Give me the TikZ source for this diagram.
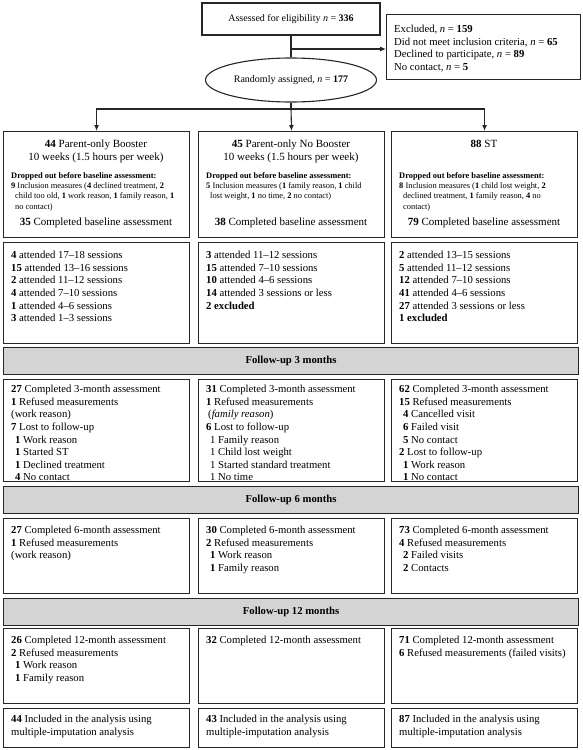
\documentclass[tikz,border=0pt]{standalone}
\usepackage{fontspec}
\setmainfont{Liberation Serif}
\usetikzlibrary{arrows.meta,shapes.geometric}

\newcommand{\indsub}{\hspace*{4pt}}

\begin{document}
\begin{tikzpicture}[x=1pt, y=-1pt,
    box/.style={draw=black!85, line width=1.1pt, anchor=north west, minimum width=186pt, inner sep=0pt},
    bar/.style={box, fill=black!17, minimum width=575pt, minimum height=27pt, font=\bfseries\fontsize{10.7}{12.6}\selectfont},
    txt/.style={anchor=north west, align=left, inner sep=0pt, font=\fontsize{10.7}{12.6}\selectfont},
    title/.style={txt, align=center, font=\fontsize{11}{13}\selectfont},
    small/.style={txt, font=\fontsize{8.4}{10.4}\selectfont},
    conn/.style={line width=1.1pt, draw=black!85},
    >={Latex[length=6pt, width=5pt]}]
    \useasboundingbox (0,0) rectangle (582,750);

    % Enrolment
    \node[draw=black!85, line width=1.1pt, minimum width=178pt, minimum height=32pt] (assess) at (291,19)
        {Assessed for eligibility \textit{n} = \textbf{336}};
    \node[box, minimum width=194pt, minimum height=65pt] (excl) at (386,14) {};
    \node[txt] (exclt) at (394,25) {Excluded, \textit{n} = \textbf{159}\\
        Did not meet inclusion criteria, \textit{n} = \textbf{65}\\
        Declined to participate, \textit{n} = \textbf{89}\\
        No contact, \textit{n} = \textbf{5}};
    \node[draw=black!85, line width=1.1pt, ellipse, minimum width=157pt, minimum height=44pt] (rand) at (291,80)
        {Randomly assigned, \textit{n} = \textbf{177}};

    % Allocation boxes
    \node[box, minimum height=106pt] (pbtop) at (3,131) {};
    \node[box, minimum height=106pt] (nbtop) at (198,131) {};
    \node[box, minimum height=106pt] (sttop) at (391,131) {};

    % Connectors
    \coordinate (split) at (291,49);
    \coordinate (fork) at (291,109);
    \draw[conn] (assess) -- (rand);
    \draw[conn, ->] (split) -- (excl.west |- split);
    \draw[conn] (rand) -- (fork);
    \draw[conn, ->] (fork) -| (pbtop.north);
    \draw[conn, ->] (fork) -- (nbtop.north);
    \draw[conn, ->] (fork) -| (sttop.north);

    % Parent-only Booster
    \node[title, anchor=north] (pbname) at (96,140) {\textbf{44} Parent-only Booster\\10 weeks (1.5 hours per week)};
    \node[small] (pbdrop) at (11,172) {\textbf{Dropped out before baseline assessment:}\\
        \textbf{9} Inclusion measures (\textbf{4} declined treatment, \textbf{2}\\
        \indsub child too old, \textbf{1} work reason, \textbf{1} family reason, \textbf{1}\\
        \indsub no contact)};
    \node[title, anchor=center] (pbbase) at (96,223) {\textbf{35} Completed baseline assessment};

    % Parent-only No Booster
    \node[title, anchor=north] (nbname) at (291,140) {\textbf{45} Parent-only No Booster\\10 weeks (1.5 hours per week)};
    \node[small] (nbdrop) at (206,172) {\textbf{Dropped out before baseline assessment:}\\
        \textbf{5} Inclusion measures (\textbf{1} family reason, \textbf{1} child\\
        \indsub lost weight, \textbf{1} no time, \textbf{2} no contact)};
    \node[title, anchor=center] (nbbase) at (291,223) {\textbf{38} Completed baseline assessment};

    % ST
    \node[title, anchor=north] (stname) at (484,140) {\textbf{88} ST};
    \node[small] (stdrop) at (399,172) {\textbf{Dropped out before baseline assessment:}\\
        \textbf{8} Inclusion measures (\textbf{1} child lost weight, \textbf{2}\\
        \indsub declined treatment, \textbf{1} family reason, \textbf{4} no\\
        \indsub contact)};
    \node[title, anchor=center] (stbase) at (484,223) {\textbf{79} Completed baseline assessment};

    % Sessions
    \node[box, minimum height=101pt] (pbses) at (3,242) {};
    \node[box, minimum height=101pt] (nbses) at (198,242) {};
    \node[box, minimum height=101pt] (stses) at (391,242) {};
    \node[txt] (pbsest) at (11,251) {\textbf{4} attended 17–18 sessions\\
        \textbf{15} attended 13–16 sessions\\
        \textbf{2} attended 11–12 sessions\\
        \textbf{4} attended 7–10 sessions\\
        \textbf{1} attended 4–6 sessions\\
        \textbf{3} attended 1–3 sessions};
    \node[txt] (nbsest) at (206,251) {\textbf{3} attended 11–12 sessions\\
        \textbf{15} attended 7–10 sessions\\
        \textbf{10} attended 4–6 sessions\\
        \textbf{14} attended 3 sessions or less\\
        \textbf{2 excluded}};
    \node[txt] (stsest) at (399,251) {\textbf{2} attended 13–15 sessions\\
        \textbf{5} attended 11–12 sessions\\
        \textbf{12} attended 7–10 sessions\\
        \textbf{41} attended 4–6 sessions\\
        \textbf{27} attended 3 sessions or less\\
        \textbf{1 excluded}};

    % Follow-up 3 months
    \node[bar] (bar3) at (3,347) {Follow-up 3 months};
    \node[box, minimum height=102pt] (pb3) at (3,379) {};
    \node[box, minimum height=102pt] (nb3) at (198,379) {};
    \node[box, minimum height=102pt] (st3) at (391,379) {};
    \node[txt] (pb3t) at (11,385) {\textbf{27} Completed 3-month assessment\\
        \textbf{1} Refused measurements\\
        (work reason)\\
        \textbf{7} Lost to follow-up\\
        \indsub\textbf{1} Work reason\\
        \indsub\textbf{1} Started ST\\
        \indsub\textbf{1} Declined treatment\\
        \indsub\textbf{4} No contact};
    \node[txt] (nb3t) at (206,385) {\textbf{31} Completed 3-month assessment\\
        \textbf{1} Refused measurements\\
        \hspace*{2pt}(\textit{family reason})\\
        \textbf{6} Lost to follow-up\\
        \indsub 1 Family reason\\
        \indsub 1 Child lost weight\\
        \indsub 1 Started standard treatment\\
        \indsub 1 No time};
    \node[txt] (st3t) at (399,385) {\textbf{62} Completed 3-month assessment\\
        \textbf{15} Refused measurements\\
        \indsub\textbf{4} Cancelled visit\\
        \indsub\textbf{6} Failed visit\\
        \indsub\textbf{5} No contact\\
        \textbf{2} Lost to follow-up\\
        \indsub\textbf{1} Work reason\\
        \indsub\textbf{1} No contact};

    % Follow-up 6 months
    \node[bar] (bar6) at (3,486) {Follow-up 6 months};
    \node[box, minimum height=75pt] (pb6) at (3,518) {};
    \node[box, minimum height=75pt] (nb6) at (198,518) {};
    \node[box, minimum height=75pt] (st6) at (391,518) {};
    \node[txt] (pb6t) at (11,526) {\textbf{27} Completed 6-month assessment\\
        \textbf{1} Refused measurements\\
        (work reason)};
    \node[txt] (nb6t) at (206,526) {\textbf{30} Completed 6-month assessment\\
        \textbf{2} Refused measurements\\
        \indsub\textbf{1} Work reason\\
        \indsub\textbf{1} Family reason};
    \node[txt] (st6t) at (399,526) {\textbf{73} Completed 6-month assessment\\
        \textbf{4} Refused measurements\\
        \indsub\textbf{2} Failed visits\\
        \indsub\textbf{2} Contacts};

    % Follow-up 12 months
    \node[bar] (bar12) at (3,598) {Follow-up 12 months};
    \node[box, minimum height=75pt] (pb12) at (3,628) {};
    \node[box, minimum height=75pt] (nb12) at (198,628) {};
    \node[box, minimum height=75pt] (st12) at (391,628) {};
    \node[txt] (pb12t) at (11,636) {\textbf{26} Completed 12-month assessment\\
        \textbf{2} Refused measurements\\
        \indsub\textbf{1} Work reason\\
        \indsub\textbf{1} Family reason};
    \node[txt] (nb12t) at (206,636) {\textbf{32} Completed 12-month assessment};
    \node[txt] (st12t) at (399,636) {\textbf{71} Completed 12-month assessment\\
        \textbf{6} Refused measurements (failed visits)};

    % Analysis
    \node[box, minimum height=39pt] (pbfin) at (3,708) {};
    \node[box, minimum height=39pt] (nbfin) at (198,708) {};
    \node[box, minimum height=39pt] (stfin) at (391,708) {};
    \node[txt] (pbfint) at (11,715) {\textbf{44} Included in the analysis using\\multiple-imputation analysis};
    \node[txt] (nbfint) at (206,715) {\textbf{43} Included in the analysis using\\multiple-imputation analysis};
    \node[txt] (stfint) at (399,715) {\textbf{87} Included in the analysis using\\multiple-imputation analysis};
\end{tikzpicture}
\end{document}
